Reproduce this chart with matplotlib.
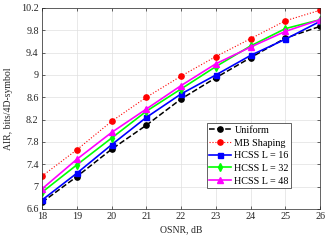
import matplotlib
matplotlib.use("Agg")
import matplotlib.pyplot as plt

plt.rcParams['font.family'] = ['Liberation Serif', 'DejaVu Serif']
plt.rcParams['mathtext.fontset'] = 'stix'

osnr = [18, 19, 20, 21, 22, 23, 24, 25, 26]
uniform = [6.72, 7.18, 7.67, 8.10, 8.57, 8.95, 9.31, 9.66, 9.87]
mb_shaping = [7.19, 7.66, 8.17, 8.60, 8.98, 9.33, 9.65, 9.97, 10.16]
hcss16 = [6.76, 7.24, 7.75, 8.24, 8.66, 9.00, 9.35, 9.64, 9.96]
hcss32 = [6.90, 7.39, 7.87, 8.35, 8.75, 9.15, 9.52, 9.83, 9.99]
hcss48 = [6.96, 7.49, 7.97, 8.39, 8.81, 9.20, 9.50, 9.78, 9.99]

xticks = [18, 19, 20, 21, 22, 23, 24, 25, 26]
yticks = [6.6, 7.0, 7.4, 7.8, 8.2, 8.6, 9.0, 9.4, 9.8, 10.2]
ytick_labels = ['6.6', '7', '7.4', '7.8', '8.2', '8.6', '9', '9.4', '9.8', '10.2']

fig = plt.figure(figsize=(3.29, 2.41), dpi=100)
ax = fig.add_axes([0.128, 0.133, 0.845, 0.834])

ax.plot(osnr, uniform, '--', color='black', marker='o', ms=3.8, lw=1.1, label='Uniform')
ax.plot(osnr, mb_shaping, ':', color='red', marker='o', ms=3.8, lw=0.8, label='MB Shaping')
ax.plot(osnr, hcss16, '-', color='blue', marker='s', ms=3.6, lw=1.2, label='HCSS L = 16')
ax.plot(osnr, hcss32, '-', color='#00ff00', marker='d', ms=4.0, lw=1.2, label='HCSS L = 32')
ax.plot(osnr, hcss48, '-', color='magenta', marker='^', ms=4.0, lw=1.2, label='HCSS L = 48')

ax.set_xlim(18, 26)
ax.set_ylim(6.6, 10.2)
ax.set_xticks(xticks)
ax.set_yticks(yticks)
ax.set_yticklabels(ytick_labels)
ax.tick_params(labelsize=7.3, direction='in', length=2.5, width=0.5, colors='#262626',
               top=True, right=True, pad=2.5)
ax.grid(True, color='#e0e0e0', lw=0.5)
for s in ax.spines.values():
    s.set_linewidth(0.5)
    s.set_color('#262626')
ax.set_xlabel('OSNR, dB', fontsize=7, labelpad=3, color='#262626')
ax.set_ylabel('AIR, bits/4D-symbol', fontsize=7, labelpad=6, color='#262626')

leg = ax.legend(loc='lower right', bbox_to_anchor=(0.897, 0.104), fontsize=7.3,
                frameon=True, fancybox=False, edgecolor='#262626', framealpha=1,
                handlelength=2.2, handletextpad=0.3, borderpad=0.25, labelspacing=0.35,
                borderaxespad=0)
leg.get_frame().set_linewidth(0.5)

fig.savefig('out.png', dpi=100)
